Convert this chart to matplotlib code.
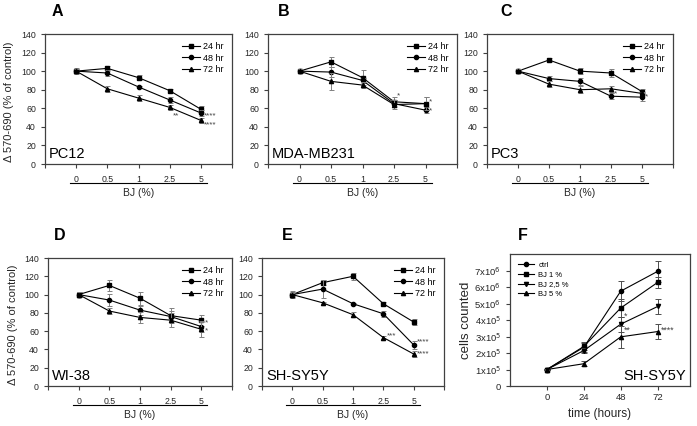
import numpy as np
import matplotlib.pyplot as plt
import matplotlib.transforms as mtransforms

plt.rcParams['font.family'] = ['Liberation Sans', 'DejaVu Sans']

W, H = 697, 426

# dose-response panels (A-E)
bj_labels = ['0', '0.5', '1', '2.5', '5']
time_labels = ['24 hr', '48 hr', '72 hr']
dose_markers = ['s', 'o', '^']

pc12_mean = [[100, 103, 93, 79, 59], [100, 98, 83, 69, 55], [100, 81, 71, 61, 47]]
pc12_err = [[2, 3, 3, 2, 3], [3, 3, 1, 3, 3], [2, 3, 3, 3, 3]]
pc12_stars = [(3, 52, '**'), (4, 52, '****'), (4, 42, '****')]

mda_mean = [[100, 110, 93, 67, 65], [100, 99, 90, 65, 58], [100, 89, 85, 64, 65]]
mda_err = [[2, 5, 8, 5, 7], [2, 5, 3, 4, 3], [2, 9, 3, 5, 7]]
mda_stars = [(3, 73, '*'), (4, 67, '*'), (4, 57, '*')]

pc3_mean = [[100, 112, 100, 98, 78], [100, 92, 89, 73, 72], [100, 86, 80, 81, 76]]
pc3_err = [[2, 2, 3, 4, 3], [2, 3, 4, 3, 4], [2, 3, 4, 3, 2]]
pc3_stars = [(3, 76, '*'), (4, 72, '*')]

wi38_mean = [[100, 110, 96, 77, 72], [100, 94, 83, 76, 65], [100, 82, 75, 72, 62]]
wi38_err = [[3, 6, 7, 8, 6], [3, 7, 5, 6, 6], [3, 3, 6, 8, 8]]
wi38_stars = [(4, 69, '*'), (4, 60, '*')]

shsy_mean = [[100, 113, 120, 90, 70], [100, 106, 90, 79, 45], [100, 91, 78, 53, 35]]
shsy_err = [[4, 3, 4, 2, 3], [3, 10, 1, 3, 4], [2, 1, 3, 2, 3]]
shsy_stars = [(3, 55, '***'), (4, 48, '****'), (4, 35, '****')]

# growth panel (F), values in units of 1e5 cells
hours = [0, 24, 48, 72]
growth_labels = ['ctrl', 'BJ 1 %', 'BJ 2,5 %', 'BJ 5 %']
growth_markers = ['o', 's', 'v', '^']
growth_mean = [[1, 2.35, 5.75, 6.95], [1, 2.4, 4.73, 6.28], [1, 2.15, 3.75, 4.82], [1, 1.35, 2.98, 3.3]]
growth_err = [[0.05, 0.3, 0.6, 0.65], [0.05, 0.2, 0.55, 0.35], [0.05, 0.15, 0.45, 0.45], [0.05, 0.15, 0.65, 0.45]]
growth_stars = [(48, 4.2, '*'), (48, 3.35, '**'), (72, 3.35, '****')]
growth_ticks = ['0', '1x10$^5$', '2x10$^5$', '3x10$^5$', '4x10$^5$', '5x10$^6$', '6x10$^6$', '7x10$^6$']

fig = plt.figure(figsize=(W / 100, H / 100), dpi=100)


def px_axes(l, t, r, b):
    return fig.add_axes([l / W, 1 - b / H, (r - l) / W, (b - t) / H])


def style_axes(ax):
    for s in ax.spines.values():
        s.set_color('0.25')
        s.set_linewidth(0.9)
    ax.tick_params(direction='out', length=3, width=0.8, color='0.25', labelsize=6.3,
                   labelcolor='0.15')


def dose_panel(ax, means, errs, stars, cell, ylabel):
    x = np.arange(len(bj_labels))
    for m, e, mk, lab in zip(means, errs, dose_markers, time_labels):
        ax.errorbar(x, m, yerr=e, fmt='none', ecolor='0.5', elinewidth=0.7, capsize=1.8, capthick=0.7)
        ax.plot(x, m, color='black', marker=mk, ms=3.0, lw=0.8, label=lab)
    for sx, sy, st in stars:
        ax.annotate(st, xy=(sx, sy), xytext=(3, 0), textcoords='offset pixels',
                    fontsize=5.8, color='0.25', ha='left', va='center')
    ax.set_xlim(-1, 5)
    ax.set_ylim(0, 140)
    ax.set_yticks(range(0, 141, 20))
    ax.set_xticks(range(-1, 6))
    ax.set_xticklabels([''] + bj_labels + [''])
    style_axes(ax)
    ax.tick_params(axis='x', pad=5)
    trans = mtransforms.blended_transform_factory(ax.transData, ax.transAxes)
    line_tr = mtransforms.offset_copy(trans, fig=fig, y=-19, units='dots')
    ax.plot([-0.2, 4.2], [0, 0], color='black', lw=0.8, transform=line_tr, clip_on=False)
    ax.annotate('BJ (%)', xy=(2, 0), xycoords=trans, xytext=(0, -29), textcoords='offset pixels',
                ha='center', va='center', fontsize=7.5, color='0.15')
    ax.annotate(cell, xy=(0, 0), xycoords='axes fraction', xytext=(4, 10), textcoords='offset pixels',
                ha='left', va='center', fontsize=10.5)
    ax.legend(loc='upper right', bbox_to_anchor=(1.0, 1.0), frameon=False, fontsize=6.5,
              handlelength=2.0, handletextpad=0.4, labelspacing=0.28, borderpad=0.4)
    if ylabel:
        ax.set_ylabel('\u0394 570-690 (% of control)', fontsize=8, color='0.15')
        ax.yaxis.set_label_coords(-0.165, 0.48)


ax_a = px_axes(45, 34, 232, 164)
dose_panel(ax_a, pc12_mean, pc12_err, pc12_stars, 'PC12', True)
ax_b = px_axes(268, 34, 457, 164)
dose_panel(ax_b, mda_mean, mda_err, mda_stars, 'MDA-MB231', False)
ax_c = px_axes(487, 34, 673, 164)
dose_panel(ax_c, pc3_mean, pc3_err, pc3_stars, 'PC3', False)
ax_d = px_axes(48, 258, 232, 386)
dose_panel(ax_d, wi38_mean, wi38_err, wi38_stars, 'WI-38', True)
ax_e = px_axes(262, 258, 444, 386)
dose_panel(ax_e, shsy_mean, shsy_err, shsy_stars, 'SH-SY5Y', False)

# panel F
ax_f = px_axes(510, 254, 690, 386)
for m, e, mk, lab in zip(growth_mean, growth_err, growth_markers, growth_labels):
    ax_f.errorbar(hours, m, yerr=e, fmt='none', ecolor='0.3', elinewidth=0.7, capsize=2, capthick=0.7)
    ax_f.plot(hours, m, color='black', marker=mk, ms=3.0, lw=0.8, label=lab)
for sx, sy, st in growth_stars:
    ax_f.annotate(st, xy=(sx, sy), xytext=(3, 0), textcoords='offset pixels',
                  fontsize=6.3, color='0.25', ha='left', va='center')
ax_f.set_xlim(-24, 93)
ax_f.set_ylim(0, 8)
ax_f.set_xticks(hours)
ax_f.set_yticks(range(0, 8))
ax_f.set_yticklabels(growth_ticks)
style_axes(ax_f)
ax_f.tick_params(labelsize=6.8)
ax_f.tick_params(axis='x', pad=2)
ax_f.set_xlabel('time (hours)', fontsize=8.5, labelpad=4, color='0.15')
ax_f.set_ylabel('cells counted', fontsize=9.5, labelpad=2, color='0.15')
ax_f.annotate('SH-SY5Y', xy=(1, 0), xycoords='axes fraction', xytext=(-4, 10), textcoords='offset pixels',
              ha='right', va='center', fontsize=10.5)
ax_f.legend(loc='upper left', frameon=False, fontsize=5.5, handlelength=2.2, handletextpad=0.5,
            labelspacing=0.3, borderpad=0.5)

# panel letters
for lx, ly, letter in [(57, 12, 'A'), (284, 12, 'B'), (506, 12, 'C'),
                       (60, 236, 'D'), (287, 236, 'E'), (523, 236, 'F')]:
    fig.text(lx / W, 1 - ly / H, letter, fontsize=11.5, fontweight='bold', ha='center', va='center')

fig.savefig('out.png', dpi=100)
